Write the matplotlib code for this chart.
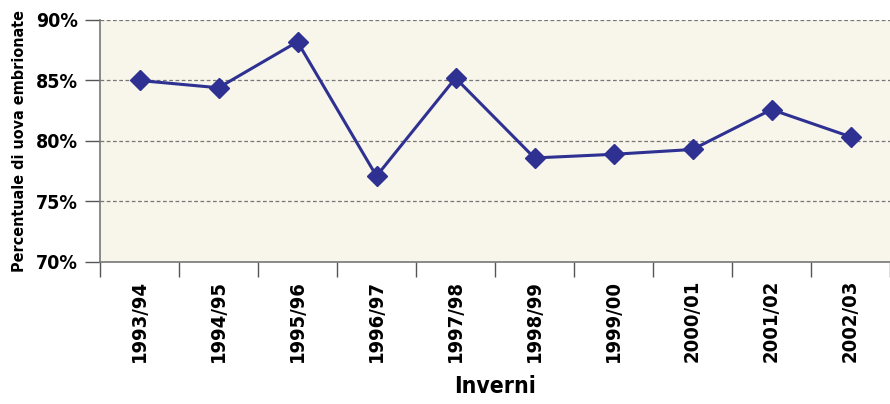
import matplotlib
matplotlib.use('Agg')
import matplotlib.pyplot as plt
import numpy as np

plt.rcParams['font.family'] = ['DejaVu Sans']
plt.rcParams['font.stretch'] = 'condensed'
plt.rcParams['font.weight'] = 'bold'

inverni = ['1993/94', '1994/95', '1995/96', '1996/97', '1997/98',
           '1998/99', '1999/00', '2000/01', '2001/02', '2002/03']
percentuale = [85.0, 84.4, 88.2, 77.1, 85.2, 78.6, 78.9, 79.3, 82.6, 80.35]
y_ticks = [70, 75, 80, 85, 90]

fig = plt.figure(figsize=(8.9, 4.04), dpi=100)
ax = fig.add_axes([100/890, 142/404, 790/890, 242/404])
ax.set_facecolor('#f8f5ea')

x = np.arange(len(inverni))
ax.plot(x, percentuale, color='#2e3192', lw=2.2, marker='D', ms=10, zorder=3)

ax.set_xlim(-0.5, len(inverni) - 0.5)
ax.set_ylim(70, 90)

# ticks at category edges, labels at centres
ax.set_xticks(np.arange(len(inverni) + 1) - 0.5)
ax.set_xticklabels([])
ax.set_xticks(x, minor=True)
ax.set_xticklabels(inverni, minor=True, rotation=90, fontsize=14.5, fontweight='bold')
ax.tick_params(axis='x', which='major', length=11, color='#555555', width=1)
ax.tick_params(axis='x', which='minor', length=0, pad=13)

ax.set_yticks(y_ticks)
ax.set_yticklabels(['%d%%' % v for v in y_ticks], fontsize=14, fontweight='bold')
ax.tick_params(axis='y', length=11, color='#555555', width=1, pad=5)

for v in y_ticks[1:]:
    ax.axhline(v, color='#777777', ls=(0, (3, 2)), lw=0.9, zorder=1)

for s in ['top', 'right']:
    ax.spines[s].set_visible(False)
for s in ['left', 'bottom']:
    ax.spines[s].set_color('#777777')
    ax.spines[s].set_linewidth(1.2)

ax.set_ylabel('Percentuale di uova embrionate', fontsize=11.5, fontweight='bold', labelpad=6)
ax.set_xlabel('Inverni', fontsize=16.5, fontweight='bold', labelpad=9)

fig.savefig('out.png', dpi=100)
